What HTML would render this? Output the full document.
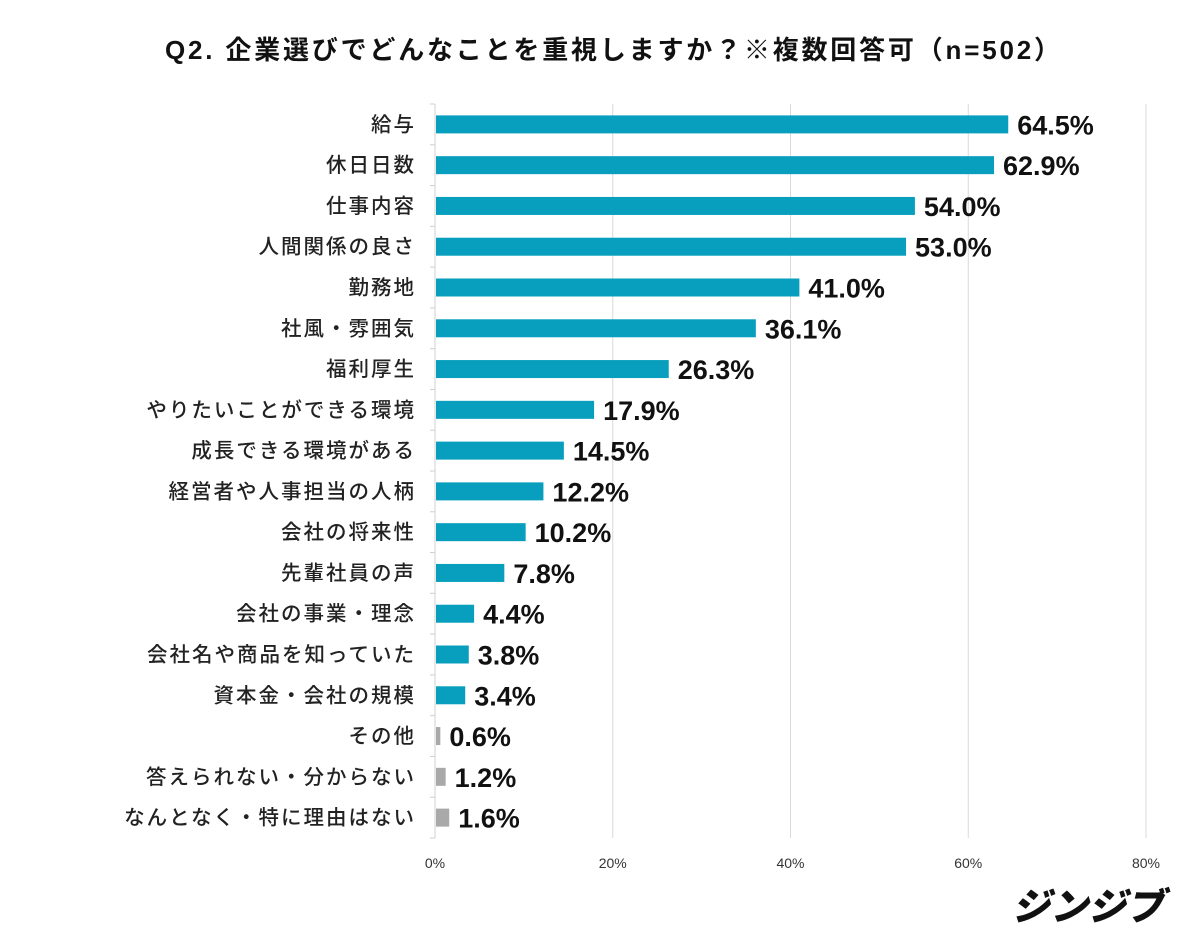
<!DOCTYPE html>
<html><head><meta charset="utf-8"><style>
body{margin:0;background:#fff;}
svg{display:block;font-family:"Liberation Sans","Noto Sans CJK JP",sans-serif;}
</style></head><body>
<svg id="c" width="1200" height="936">
<text x="165" y="59" textLength="895" lengthAdjust="spacing" font-size="26" font-weight="bold" fill="#111">Q2.  企業選びでどんなことを重視しますか？※複数回答可（n=502）</text>
<text x="1088" y="920" text-anchor="middle" font-size="38" font-weight="900" fill="#111" font-style="italic">ジンジブ</text>
</svg>
<script>
const categories=["給与","休日日数","仕事内容","人間関係の良さ","勤務地","社風・雰囲気","福利厚生","やりたいことができる環境","成長できる環境がある","経営者や人事担当の人柄","会社の将来性","先輩社員の声","会社の事業・理念","会社名や商品を知っていた","資本金・会社の規模","その他","答えられない・分からない","なんとなく・特に理由はない"];
const values=[64.5,62.9,54.0,53.0,41.0,36.1,26.3,17.9,14.5,12.2,10.2,7.8,4.4,3.8,3.4,0.6,1.2,1.6];
const grayFlags=[0,0,0,0,0,0,0,0,0,0,0,0,0,0,0,1,1,1];
const ticks=[0,20,40,60,80];
const svgEl=document.getElementById('c');
const NS='http://www.w3.org/2000/svg';
const X0=435,X1=1146,Y0=104,Y1=838;
const step=(Y1-Y0)/categories.length;
const xs=v=>X0+(v/80)*(X1-X0);
const yc=i=>Y0+step*(i+0.5);
function mk(t,a){const e=document.createElementNS(NS,t);for(const k in a)e.setAttribute(k,a[k]);svgEl.appendChild(e);return e;}
ticks.forEach(t=>{
 if(t>0){const g=mk('line',{x1:xs(t),x2:xs(t),y1:Y0,y2:Y1,stroke:'#d9d9d9','stroke-width':1});
 
 }
 const l=mk('text',{x:xs(t),y:868,'text-anchor':'middle','font-size':14,fill:'#333'});
 l.textContent=t+'%';
 
 
});
const ax=mk('line',{x1:X0,x2:X0,y1:Y0,y2:Y1,stroke:'#d0d0d0','stroke-width':1});


for(let i=0;i<=categories.length;i++){
 const tk=mk('line',{x1:X0-5,x2:X0,y1:Y0+step*i,y2:Y0+step*i,stroke:'#d0d0d0'});
 
 
}
categories.forEach((c,i)=>{
 const y=yc(i);
 const lab=mk('text',{x:416,y:y+7,'text-anchor':'end','font-size':20.5,'letter-spacing':2,'font-weight':500,fill:'#222'});
 lab.textContent=c;
 
 
 const w=xs(values[i])-X0;
 const b=mk('rect',{x:X0+1,y:y-9,width:Math.max(w-1,1),height:18,fill:grayFlags[i]?'#a9a9a9':'#079fbd'});
 
 
 const v=mk('text',{x:xs(values[i])+9,y:y+10,'font-size':27,'font-weight':'bold',fill:'#111'});
 v.textContent=values[i].toFixed(1)+'%';
 
 
});
</script>
</body></html>
